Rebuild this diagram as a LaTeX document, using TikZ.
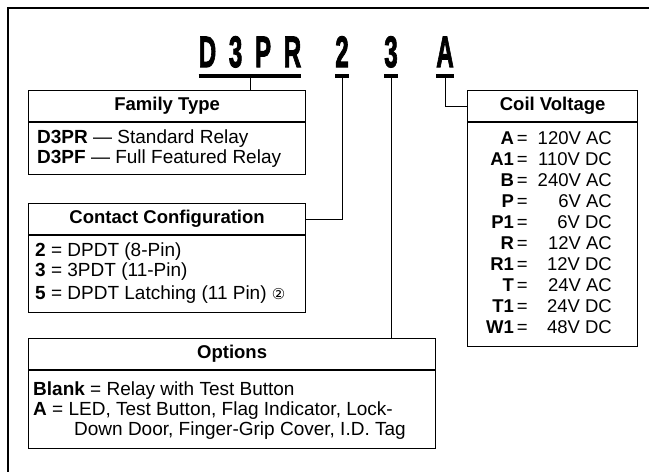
\documentclass[tikz,border=0pt]{standalone}
\usepackage{fontspec}
\setmainfont{Liberation Sans}
\newfontfamily\circfont{DejaVu Sans}
\newfontfamily\codefont[FakeBold=2.5]{Liberation Sans Bold}
\usetikzlibrary{positioning}

\tikzset{
  frame/.style={line width=1.8pt},
  box/.style={draw, line width=1.2pt, rectangle, anchor=north west, inner sep=0pt},
  rule/.style={line width=1.2pt},
  head/.style={font=\fontsize{18.5}{21}\selectfont\bfseries, inner sep=0pt},
  body/.style={font=\fontsize{19}{20}\selectfont, anchor=north west, align=left, inner sep=0pt},
  code/.style={font=\fontsize{44}{44}\codefont, inner sep=0pt, anchor=base},
  uline/.style={line width=3.2pt},
  link/.style={line width=1pt}
}

\begin{document}
\begin{tikzpicture}[x=1pt,y=-1pt]
  \useasboundingbox (0,0) rectangle (649,472);
  \draw[frame] (8,472) -- (8,8) -- (649,8);

  % catalog number
  \node[code] (cpr) at (250,67) {\scalebox{.55}[1]{D\kern23pt 3\kern23pt P\kern23pt R}};
  \node[code] (c2) at (342,67) {\scalebox{.55}[1]{2}};
  \node[code] (c3) at (391,67) {\scalebox{.55}[1]{3}};
  \node[code] (cA) at (445,67) {\scalebox{.55}[1]{A}};
  \foreach \c in {cpr,c2,c3,cA}
    \draw[uline] ([yshift=-9pt]\c.base west) -- ([yshift=-9pt]\c.base east);

  % family type
  \node[box, minimum width=277pt, minimum height=84pt] (fam) at (28,90) {};
  \draw[rule] ([yshift=-32pt]fam.north west) -- ([yshift=-32pt]fam.north east);
  \node[head] (famh) at ([yshift=-16pt]fam.north) {Family Type};
  \node[body] (famt) at ([xshift=9pt,yshift=-40pt]fam.north west)
    {\textbf{D3PR} — Standard Relay\\\textbf{D3PF} — Full Featured Relay};

  % contact configuration
  \node[box, minimum width=277pt, minimum height=109pt] (con) at (28,203) {};
  \draw[rule] ([yshift=-32pt]con.north west) -- ([yshift=-32pt]con.north east);
  \node[head] (conh) at ([yshift=-16pt]con.north) {Contact Configuration};
  \node[body] (cont) at ([xshift=7pt,yshift=-40pt]con.north west)
    {\textbf{2} = DPDT (8-Pin)\\\textbf{3} = 3PDT (11-Pin)\\[3pt]
     \textbf{5} = DPDT Latching (11 Pin) {\circfont\fontsize{15}{15}\selectfont ②}};

  % options
  \node[box, minimum width=407pt, minimum height=110pt] (opt) at (28,338) {};
  \draw[rule] ([yshift=-32pt]opt.north west) -- ([yshift=-32pt]opt.north east);
  \node[head] (opth) at ([yshift=-16pt]opt.north) {Options};
  \node[body] (optt) at ([xshift=5pt,yshift=-44pt]opt.north west)
    {\textbf{Blank} = Relay with Test Button\\
     \textbf{A} = LED, Test Button, Flag Indicator, Lock-\\
     \hspace*{41pt}Down Door, Finger-Grip Cover, I.D. Tag};

  % coil voltage
  \node[box, minimum width=170pt, minimum height=256pt] (coil) at (467,90) {};
  \draw[rule] ([yshift=-32pt]coil.north west) -- ([yshift=-32pt]coil.north east);
  \node[head] (coilh) at ([yshift=-16pt]coil.north) {Coil Voltage};
  \node[anchor=north east, inner sep=0pt, font=\fontsize{18.5}{21}\selectfont] (coilt) at (612,130)
    {\begin{tabular}{@{}r@{\hspace{3pt}}l@{\hspace{10pt}}r@{}}
      \textbf{A} & = & 120V AC\\
      \textbf{A1} & = & 110V DC\\
      \textbf{B} & = & 240V AC\\
      \textbf{P} & = & 6V AC\\
      \textbf{P1} & = & 6V DC\\
      \textbf{R} & = & 12V AC\\
      \textbf{R1} & = & 12V DC\\
      \textbf{T} & = & 24V AC\\
      \textbf{T1} & = & 24V DC\\
      \textbf{W1} & = & 48V DC
    \end{tabular}};

  % connectors
  \draw[link] ([yshift=-9pt]cpr.base) -- (cpr.base |- fam.north);
  \draw[link] ([yshift=-9pt]c2.base) |- (con.east |- conh);
  \draw[link] ([yshift=-9pt]c3.base) -- (c3.base |- opt.north);
  \draw[link] ([yshift=-9pt]cA.base) |- (coil.west |- coilh);
\end{tikzpicture}
\end{document}
